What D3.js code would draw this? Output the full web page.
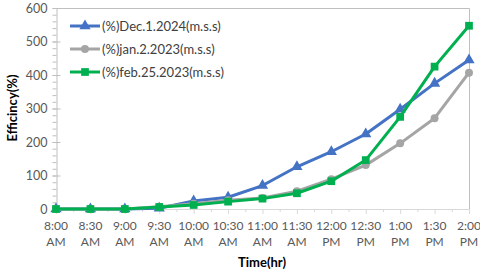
<!DOCTYPE html>
<html>
<head>
<meta charset="utf-8">
<script src="https://cdn.jsdelivr.net/npm/d3@7"></script>
<style>
  body { margin: 0; background: #fff; }
  svg { font-family: Lato, "Open Sans", sans-serif; }
</style>
</head>
<body>
<svg id="chart"></svg>
<script>
// chart data
let times = ["8:00 AM", "8:30 AM", "9:00 AM", "9:30 AM", "10:00 AM", "10:30 AM", "11:00 AM",
             "11:30 AM", "12:00 PM", "12:30 PM", "1:00 PM", "1:30 PM", "2:00 PM"];
let seriesNames = ["(%)Dec.1.2024(m.s.s)", "(%)jan.2.2023(m.s.s)", "(%)feb.25.2023(m.s.s)"];
let dec2024 = [0, 0, 0, 2, 24, 35, 70, 126, 171, 224, 298, 375, 445];
let jan2023 = [0, 0, 0, 7, 16, 26, 33, 53, 89, 131, 196, 271, 407];
let feb2023 = [0, 0, 0, 6, 12, 22, 31, 47, 83, 146, 275, 425, 547];
let yTicks = [0, 100, 200, 300, 400, 500, 600];

let colors = ["#4472C4", "#A5A5A5", "#00B050"];
let markers = [d3.symbolTriangle, d3.symbolCircle, d3.symbolSquare];
let markerSize = [55, 50, 60];

var svgWidth = 480, svgHeight = 274;
var pLeft = 56, pRight = 469, pTop = 8, pBottom = 209;

var svg = d3.select("#chart")
    .attr("width", svgWidth)
    .attr("height", svgHeight);

var x = d3.scalePoint().domain(times).range([pLeft, pRight]);
var y = d3.scaleLinear().domain([0, 600]).range([pBottom, pTop]);

// frame (top and right)
svg.append("path")
    .attr("d", "M" + pLeft + "," + (pTop + 0.5) + "H" + (pRight + 0.5) + "V" + pBottom)
    .attr("fill", "none")
    .attr("stroke", "#bfbfbf")
    .attr("stroke-width", 1);

// y axis with minor ticks
var yMinor = d3.range(0, 601, 20);
svg.append("g")
    .attr("transform", "translate(" + (pLeft + 0.5) + ",0)")
    .call(d3.axisLeft(y).tickValues(yMinor).tickSize(4).tickSizeOuter(0).tickFormat(""))
    .call(g => g.select(".domain").attr("stroke", "#bfbfbf"))
    .call(g => g.selectAll(".tick line").attr("stroke", "#bfbfbf"));
var yAxis = svg.append("g")
    .attr("transform", "translate(" + (pLeft + 0.5) + ",0)")
    .call(d3.axisLeft(y).tickValues(yTicks).tickSize(4).tickPadding(5))
    .call(g => g.select(".domain").remove())
    .call(g => g.selectAll(".tick line").attr("stroke", "#bfbfbf").attr("x2", 4).attr("x1", -4));
yAxis.selectAll("text")
    .attr("fill", "#595959")
    .attr("font-size", "12.5px")
    .attr("font-family", "Lato, sans-serif");

// x axis
var step = x.step();
var xMinor = times.slice(0, -1).map(t => x(t) + step / 2);
svg.append("line")
    .attr("x1", pLeft).attr("x2", pRight)
    .attr("y1", pBottom + 0.5).attr("y2", pBottom + 0.5)
    .attr("stroke", "#d9d9d9");
svg.selectAll(".xmaj")
    .data(times)
    .enter()
    .append("line")
    .attr("x1", d => x(d) + 0.5).attr("x2", d => x(d) + 0.5)
    .attr("y1", pBottom).attr("y2", pBottom + 5)
    .attr("stroke", "#d9d9d9");
svg.selectAll(".xmin")
    .data(xMinor)
    .enter()
    .append("line")
    .attr("x1", d => d + 0.5).attr("x2", d => d + 0.5)
    .attr("y1", pBottom).attr("y2", pBottom + 3)
    .attr("stroke", "#d9d9d9");

var xLab = svg.selectAll(".xlab")
    .data(times)
    .enter()
    .append("text")
    .attr("text-anchor", "middle")
    .attr("fill", "#595959")
    .attr("font-size", "12px")
    .attr("transform", d => "translate(" + x(d) + ",230)");
xLab.append("tspan").attr("x", 0).attr("y", 0).text(d => d.split(" ")[0]);
xLab.append("tspan").attr("x", 0).attr("y", 15.5).text(d => d.split(" ")[1]);

// axis titles
svg.append("text")
    .attr("x", 262).attr("y", 267)
    .attr("text-anchor", "middle")
    .attr("font-weight", "bold")
    .attr("font-size", "13px")
    .attr("fill", "#000")
    .text("Time(hr)");
svg.append("text")
    .attr("transform", "translate(17,108) rotate(-90)")
    .attr("text-anchor", "middle")
    .attr("font-weight", "bold")
    .attr("font-size", "13px")
    .attr("fill", "#000")
    .text("Efficincy(%)");

// lines and markers
var allSeries = [dec2024, jan2023, feb2023];
var line = d3.line().x((d, i) => x(times[i])).y(d => y(d));

allSeries.forEach(function (vals, s) {
    svg.append("path")
        .datum(vals)
        .attr("d", line)
        .attr("fill", "none")
        .attr("stroke", colors[s])
        .attr("stroke-width", 3)
        .attr("stroke-linejoin", "round");
    svg.selectAll(".m" + s)
        .data(vals)
        .enter()
        .append("path")
        .attr("d", d3.symbol().type(markers[s]).size(markerSize[s]))
        .attr("fill", colors[s])
        .attr("transform", (d, i) => "translate(" + x(times[i]) + "," + y(d) + ")");
});

// legend
var legend = svg.selectAll(".leg")
    .data(seriesNames)
    .enter()
    .append("g")
    .attr("transform", (d, i) => "translate(70," + (26 + i * 23) + ")");
legend.append("line")
    .attr("x1", 0).attr("x2", 30)
    .attr("stroke", (d, i) => colors[i])
    .attr("stroke-width", 3);
legend.append("path")
    .attr("d", (d, i) => d3.symbol().type(markers[i]).size(markerSize[i])())
    .attr("transform", "translate(15,0)")
    .attr("fill", (d, i) => colors[i]);
legend.append("text")
    .attr("x", 32).attr("y", 4.5)
    .attr("font-size", "13px")
    .attr("fill", "#404040")
    .text(d => d);
</script>
</body>
</html>
